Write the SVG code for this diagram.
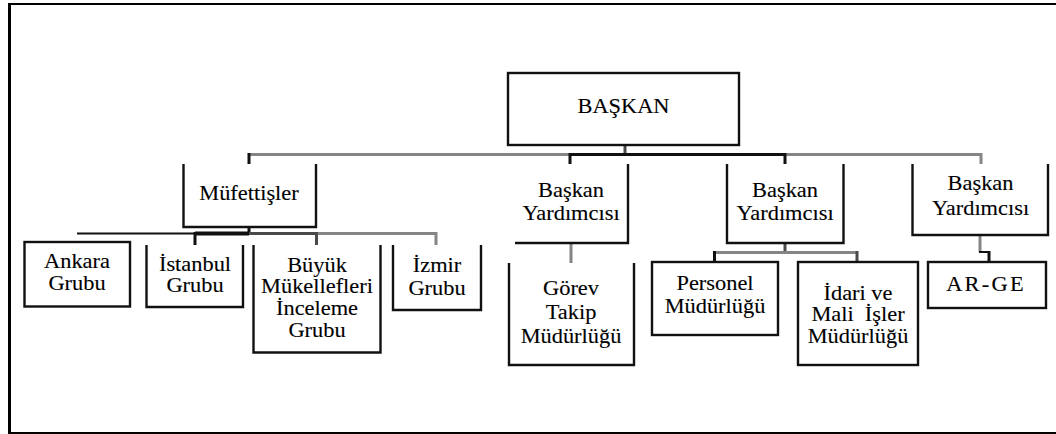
<svg xmlns="http://www.w3.org/2000/svg" width="1056" height="434" viewBox="0 0 1056 434">
<style>
.box{fill:#fff;stroke:#111;stroke-width:2.4;stroke-linejoin:miter}
.t{font-family:"Liberation Serif","Times New Roman",serif;font-size:20px;fill:#000;stroke:#000;stroke-width:0.12;text-anchor:middle}
.k{stroke:#111;stroke-width:3;fill:none}
.g{stroke:#858585;stroke-width:3;fill:none}
.d{stroke:#4a4a4a;stroke-width:3;fill:none}
</style>
<rect width="1056" height="434" fill="#fff"/>
<g id="frame">
<line x1="9.5" y1="3" x2="9.5" y2="434" stroke="#000" stroke-width="3"/>
<line x1="8" y1="4" x2="1056" y2="4" stroke="#000" stroke-width="2"/>
<line x1="8" y1="433" x2="1056" y2="433" stroke="#000" stroke-width="2"/>
</g>
<g id="connectors">
<path class="d" stroke-width="2" d="M625,145 V154"/>
<path class="g" d="M249,154.5 H981"/>
<path class="k" d="M570,154.5 H785"/>
<path class="k" d="M249,153 V164 M570,153 V164 M785,153 V164"/>
<path class="g" d="M981,153 V164"/>
<path class="k" d="M249,227 V234"/>
<path stroke="#111" stroke-width="2" fill="none" d="M77,233.5 H249"/>
<path stroke="#111" stroke-width="4" fill="none" d="M195,233.5 H249"/>
<path class="d" d="M249,233.5 H316.5"/>
<path class="g" d="M316.5,233.5 H436"/>
<path class="k" d="M195,232 V245"/>
<path class="d" d="M316.5,232 V245"/>
<path class="g" d="M436,232 V245"/>
<path class="g" d="M571,243 V263"/>
<path class="d" stroke-width="2" d="M785,243 V252"/>
<path class="g" d="M714.5,252.5 H857"/>
<path class="k" d="M714.5,251 V262"/>
<path class="d" d="M857,251 V262"/>
<path class="g" d="M980,234 V252"/>
<path stroke="#111" stroke-width="2" fill="none" d="M979,252 H989"/>
<path class="k" d="M989,251 V262"/>
</g>
<g id="baskan">
<rect class="box" x="508" y="73" width="231" height="72"/>
<text class="t" transform="translate(623.5,113) scale(1.12,1)">BAŞKAN</text>
</g>
<g id="mufettisler">
<path class="box" d="M183.5,164 V227 H316 V164"/>
<text class="t" transform="translate(249,200) scale(1.12,1)">Müfettişler</text>
</g>
<g id="ankara">
<rect class="box" x="24.5" y="242" width="105.5" height="64.5"/>
<text class="t" transform="translate(77,268) scale(1.12,1)"><tspan x="0">Ankara</tspan><tspan x="0" dy="22">Grubu</tspan></text>
</g>
<g id="istanbul">
<path class="box" d="M146.5,245 V307 H243 V245"/>
<text class="t" transform="translate(195,271) scale(1.12,1)"><tspan x="0">İstanbul</tspan><tspan x="0" dy="21">Grubu</tspan></text>
</g>
<g id="buyuk">
<path class="box" d="M253.5,245 V352.5 H380.5 V245"/>
<text class="t" transform="translate(317,272) scale(1.12,1)"><tspan x="0">Büyük</tspan><tspan x="0" dy="21.5">Mükellefleri</tspan><tspan x="0" dy="21.5">İnceleme</tspan><tspan x="0" dy="22">Grubu</tspan></text>
</g>
<g id="izmir">
<path class="box" d="M393,245 V310 H481 V245"/>
<text class="t" transform="translate(437,272) scale(1.12,1)"><tspan x="0">İzmir</tspan><tspan x="0" dy="23">Grubu</tspan></text>
</g>
<g id="yardimci1">
<path class="box" d="M515,243 H628 V164"/>
<text class="t" transform="translate(571,197) scale(1.12,1)"><tspan x="0">Başkan</tspan><tspan x="0" dy="23">Yardımcısı</tspan></text>
</g>
<g id="yardimci2">
<path class="box" d="M727,164 V243 H843.5 V164"/>
<text class="t" transform="translate(785,197) scale(1.12,1)"><tspan x="0">Başkan</tspan><tspan x="0" dy="23">Yardımcısı</tspan></text>
</g>
<g id="yardimci3">
<path class="box" d="M912.5,164 V235 H1048 V164"/>
<text class="t" transform="translate(980.5,190) scale(1.12,1)"><tspan x="0">Başkan</tspan><tspan x="0" dy="25">Yardımcısı</tspan></text>
</g>
<g id="gorev">
<path class="box" d="M509,263 V365 H634 V263"/>
<text class="t" transform="translate(571,295) scale(1.12,1)"><tspan x="0">Görev</tspan><tspan x="0" dy="24">Takip</tspan><tspan x="0" dy="24">Müdürlüğü</tspan></text>
</g>
<g id="personel">
<rect class="box" x="652" y="262" width="126" height="73"/>
<text class="t" transform="translate(715,290) scale(1.12,1)"><tspan x="0">Personel</tspan><tspan x="0" dy="23">Müdürlüğü</tspan></text>
</g>
<g id="idari">
<rect class="box" x="798" y="262" width="120" height="103"/>
<text class="t" transform="translate(858,300) scale(1.12,1)" xml:space="preserve"><tspan x="0">İdari ve</tspan><tspan x="0" dy="21">Mali  İşler</tspan><tspan x="0" dy="22">Müdürlüğü</tspan></text>
</g>
<g id="arge">
<rect class="box" x="928" y="262" width="118" height="46"/>
<text class="t" transform="translate(986,291) scale(1.12,1)" style="letter-spacing:2px">AR-GE</text>
</g>
</svg>
